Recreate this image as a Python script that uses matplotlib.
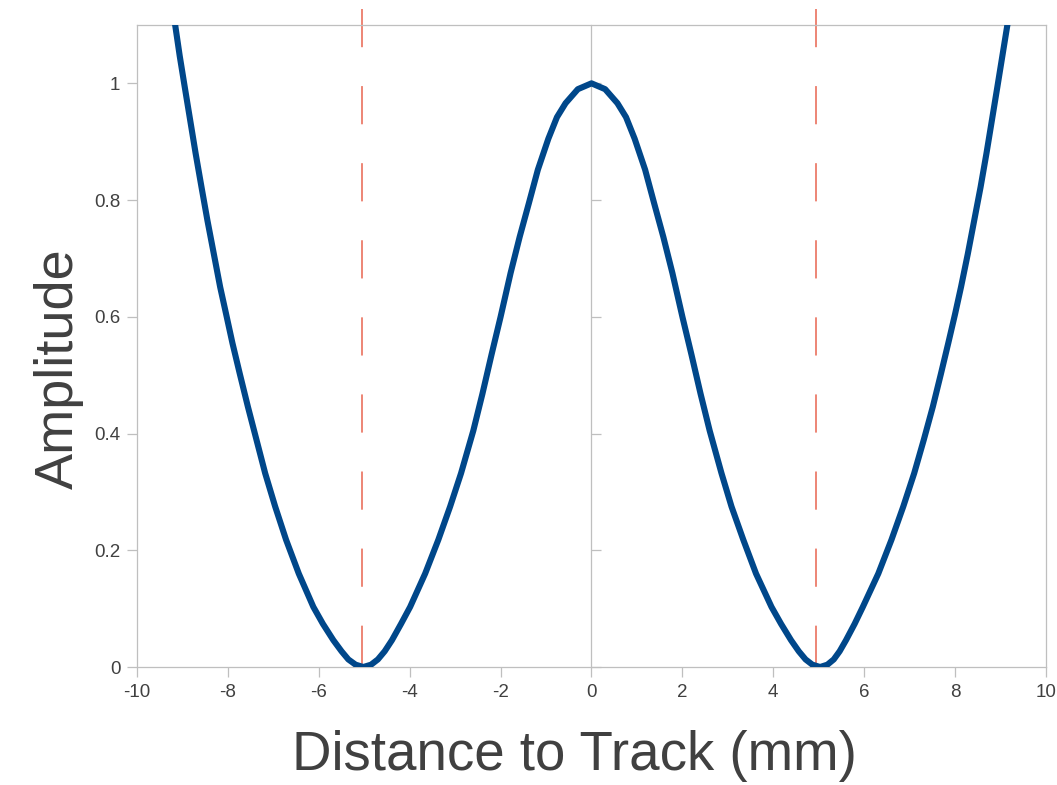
import matplotlib
matplotlib.use('Agg')
import matplotlib.pyplot as plt

plt.rcParams['font.family'] = ['Liberation Sans', 'DejaVu Sans']
plt.rcParams['lines.scale_dashes'] = False

# values, left to right
distance = [-9.16, -9.06, -8.95, -8.83, -8.71, -8.58, -8.45, -8.31, -8.17, -8.04,
            -7.90, -7.74, -7.56, -7.37, -7.18, -6.96, -6.72, -6.44, -6.12, -5.91,
            -5.68, -5.50, -5.35, -5.19, -5.02, -4.85, -4.70, -4.55, -4.39, -4.19,
            -3.99, -3.66, -3.37, -3.11, -2.87, -2.60, -2.40, -2.20, -2.00, -1.78,
            -1.58, -1.38, -1.18, -0.95, -0.76, -0.57, -0.30, 0.00, 0.30, 0.57,
            0.76, 0.95, 1.18, 1.38, 1.58, 1.78, 2.00, 2.20, 2.40, 2.60,
            2.86, 3.08, 3.34, 3.62, 3.96, 4.17, 4.39, 4.56, 4.71, 4.86,
            5.03, 5.19, 5.33, 5.46, 5.60, 5.79, 5.97, 6.31, 6.60, 6.86,
            7.10, 7.31, 7.51, 7.69, 7.85, 8.00, 8.13, 8.28, 8.42, 8.56,
            8.69, 8.81, 8.93, 9.04, 9.15]
amplitude = [1.100, 1.047, 0.994, 0.937, 0.880, 0.822, 0.765, 0.708, 0.651, 0.605,
             0.555, 0.503, 0.446, 0.389, 0.332, 0.275, 0.218, 0.160, 0.103, 0.074,
             0.046, 0.027, 0.013, 0.004, 0.000, 0.004, 0.013, 0.027, 0.046, 0.074,
             0.103, 0.160, 0.218, 0.275, 0.332, 0.405, 0.468, 0.535, 0.600, 0.675,
             0.737, 0.794, 0.852, 0.905, 0.942, 0.966, 0.990, 1.000, 0.990, 0.966,
             0.942, 0.905, 0.852, 0.794, 0.737, 0.675, 0.600, 0.535, 0.468, 0.405,
             0.332, 0.275, 0.218, 0.160, 0.103, 0.074, 0.046, 0.027, 0.013, 0.004,
             0.000, 0.004, 0.013, 0.027, 0.046, 0.074, 0.103, 0.160, 0.218, 0.275,
             0.332, 0.389, 0.446, 0.503, 0.555, 0.605, 0.651, 0.708, 0.765, 0.822,
             0.880, 0.937, 0.994, 1.047, 1.100]
track_marks = [-5.04, 4.93]

xticks = [-10, -8, -6, -4, -2, 0, 2, 4, 6, 8, 10]
yticks = [0, 0.2, 0.4, 0.6, 0.8, 1]
ytick_labels = ['0', '0.2', '0.4', '0.6', '0.8', '1']

GRAY = '#bfbfbf'
TEXT = '#404040'

fig = plt.figure(figsize=(10.57, 7.85), dpi=100)
ax = fig.add_axes([0.1296, 0.1503, 0.86, 0.8179])

ax.plot(distance, amplitude, color='#00478a', lw=4.4, solid_joinstyle='round', zorder=3)

for xm in track_marks:
    ax.plot([xm, xm], [1.128, 0.0], color='#e8654f', lw=1.1,
            dashes=(27.5, 28), clip_on=False, zorder=2)

ax.set_xlim(-10, 10)
ax.set_ylim(0, 1.1)

for s in ax.spines.values():
    s.set_color(GRAY)
    s.set_linewidth(0.9)

ax.set_xticks(xticks)
ax.set_xticklabels([str(t) for t in xticks])
ax.set_yticks(yticks)
ax.set_yticklabels(ytick_labels)
ax.tick_params(axis='both', colors=GRAY, labelcolor=TEXT, labelsize=13.5,
               length=7, width=0.9, pad=5)

# centre axis at x = 0 with its own ticks
center = ax.secondary_yaxis(0.5)
center.set_yticks(yticks)
center.set_yticklabels([])
for s in center.spines.values():
    s.set_color(GRAY)
    s.set_linewidth(0.9)
center.tick_params(colors=GRAY, length=7, width=0.9)

ax.set_xlabel('Distance to Track (mm)', fontsize=39.3, color=TEXT)
ax.set_ylabel('Amplitude', fontsize=39, color=TEXT)
ax.xaxis.set_label_coords(0.481, -0.098)
ax.yaxis.set_label_coords(-0.058, 0.464)

fig.savefig('out.png', dpi=100)
